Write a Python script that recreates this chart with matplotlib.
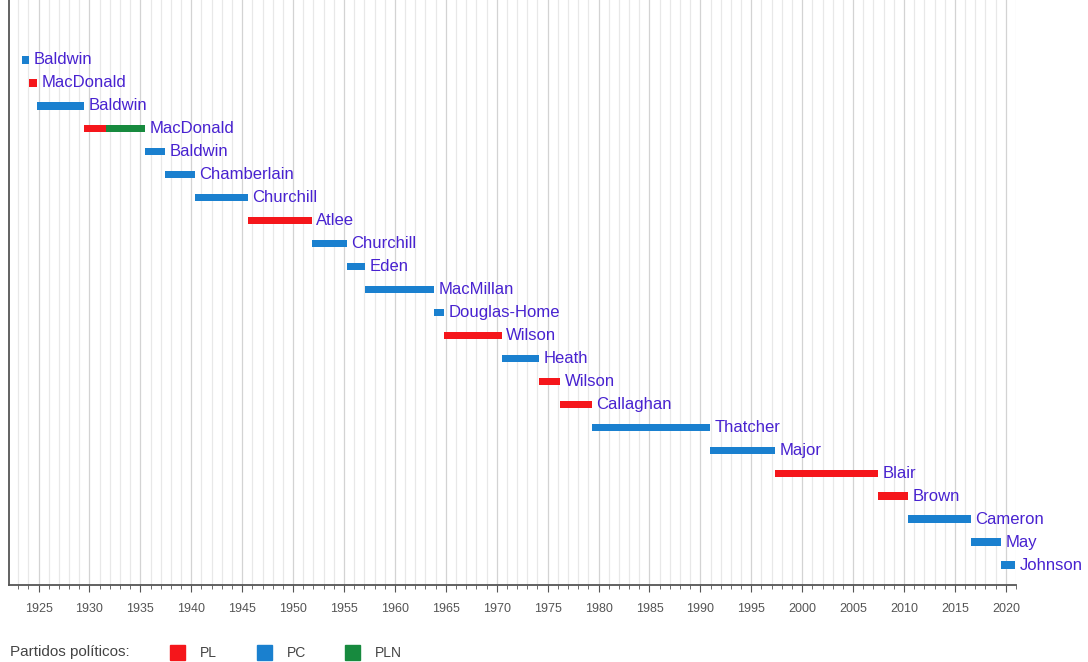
import matplotlib
matplotlib.use("Agg")
import matplotlib.pyplot as plt
import matplotlib.patches as patches
from matplotlib.ticker import MultipleLocator

plt.rcParams['font.family'] = ['Liberation Sans', 'DejaVu Sans']

# one row per premiership (top to bottom)
pm_names = ['Baldwin', 'MacDonald', 'Baldwin', 'MacDonald', 'Baldwin', 'Chamberlain',
            'Churchill', 'Atlee', 'Churchill', 'Eden', 'MacMillan', 'Douglas-Home',
            'Wilson', 'Heath', 'Wilson', 'Callaghan', 'Thatcher', 'Major', 'Blair',
            'Brown', 'Cameron', 'May', 'Johnson']

# bar segments: row index, start year, end year, party
seg_row = [0, 1, 2, 3, 3, 4, 5, 6, 7, 8, 9, 10, 11, 12, 13, 14, 15, 16, 17, 18, 19, 20, 21, 22]
seg_start = [1923.4, 1924.05, 1924.85, 1929.43, 1931.65, 1935.44, 1937.41, 1940.36, 1945.57,
             1951.82, 1955.27, 1957.03, 1963.8, 1964.79, 1970.47, 1974.18, 1976.26, 1979.34,
             1990.91, 1997.34, 2007.49, 2010.35, 2016.54, 2019.56]
seg_end = [1924.05, 1924.85, 1929.43, 1931.65, 1935.44, 1937.41, 1940.36, 1945.57, 1951.82,
           1955.27, 1957.03, 1963.8, 1964.79, 1970.47, 1974.18, 1976.26, 1979.34, 1990.91,
           1997.34, 2007.49, 2010.35, 2016.54, 2019.56, 2020.9]
seg_party = ['PC', 'PL', 'PC', 'PL', 'PLN', 'PC', 'PC', 'PC', 'PL', 'PC', 'PC', 'PC', 'PC',
             'PL', 'PC', 'PL', 'PL', 'PC', 'PC', 'PL', 'PL', 'PC', 'PC', 'PC']

parties = ['PL', 'PC', 'PLN']
party_colors = {'PL': '#f5161b', 'PC': '#1a80cf', 'PLN': '#178a3e'}
label_color = '#4822d0'

fig = plt.figure(figsize=(10.88, 6.62), dpi=100)
ax = fig.add_axes([9 / 1088, 1 - 585 / 662, 1007 / 1088, 585 / 662])

for r, s, e, p in zip(seg_row, seg_start, seg_end, seg_party):
    ax.barh(r, e - s, left=s, height=0.32, color=party_colors[p], zorder=3)

for i, name in enumerate(pm_names):
    end = max(e for r, e in zip(seg_row, seg_end) if r == i)
    ax.text(end + 0.45, i, name, color=label_color, fontsize=12, va='center', ha='left', zorder=4)

ax.set_xlim(1922.1, 2021.0)
ax.set_ylim(22.87, -2.61)
ax.xaxis.set_major_locator(MultipleLocator(5))
ax.xaxis.set_minor_locator(MultipleLocator(1))
ax.set_xticks(range(1925, 2021, 5))
ax.grid(axis='x', which='major', color='#d3d3d3', lw=0.9, zorder=0)
ax.grid(axis='x', which='minor', color='#e8e8e8', lw=0.9, zorder=0)
ax.set_yticks([])
ax.tick_params(axis='x', which='major', length=5, color='#555555', labelsize=9,
               labelcolor='#555555', pad=8)
ax.tick_params(axis='x', which='minor', length=3, color='#555555')
for side in ['top', 'right']:
    ax.spines[side].set_visible(False)
for side in ['left', 'bottom']:
    ax.spines[side].set_color('#555555')
    ax.spines[side].set_linewidth(1.3)

# legend
fig.text(10 / 1088, 1 - 652 / 662, 'Partidos políticos:', fontsize=11, color='#444444', va='center')
key_x = [170, 257, 345]
for x, p in zip(key_x, parties):
    fig.add_artist(patches.Rectangle((x / 1088, 1 - 660 / 662), 15 / 1088, 15 / 662,
                                     color=party_colors[p], transform=fig.transFigure))
    fig.text((x + 30) / 1088, 1 - 653 / 662, p, fontsize=10, color='#444444', va='center')

fig.savefig('out.png', dpi=100)
